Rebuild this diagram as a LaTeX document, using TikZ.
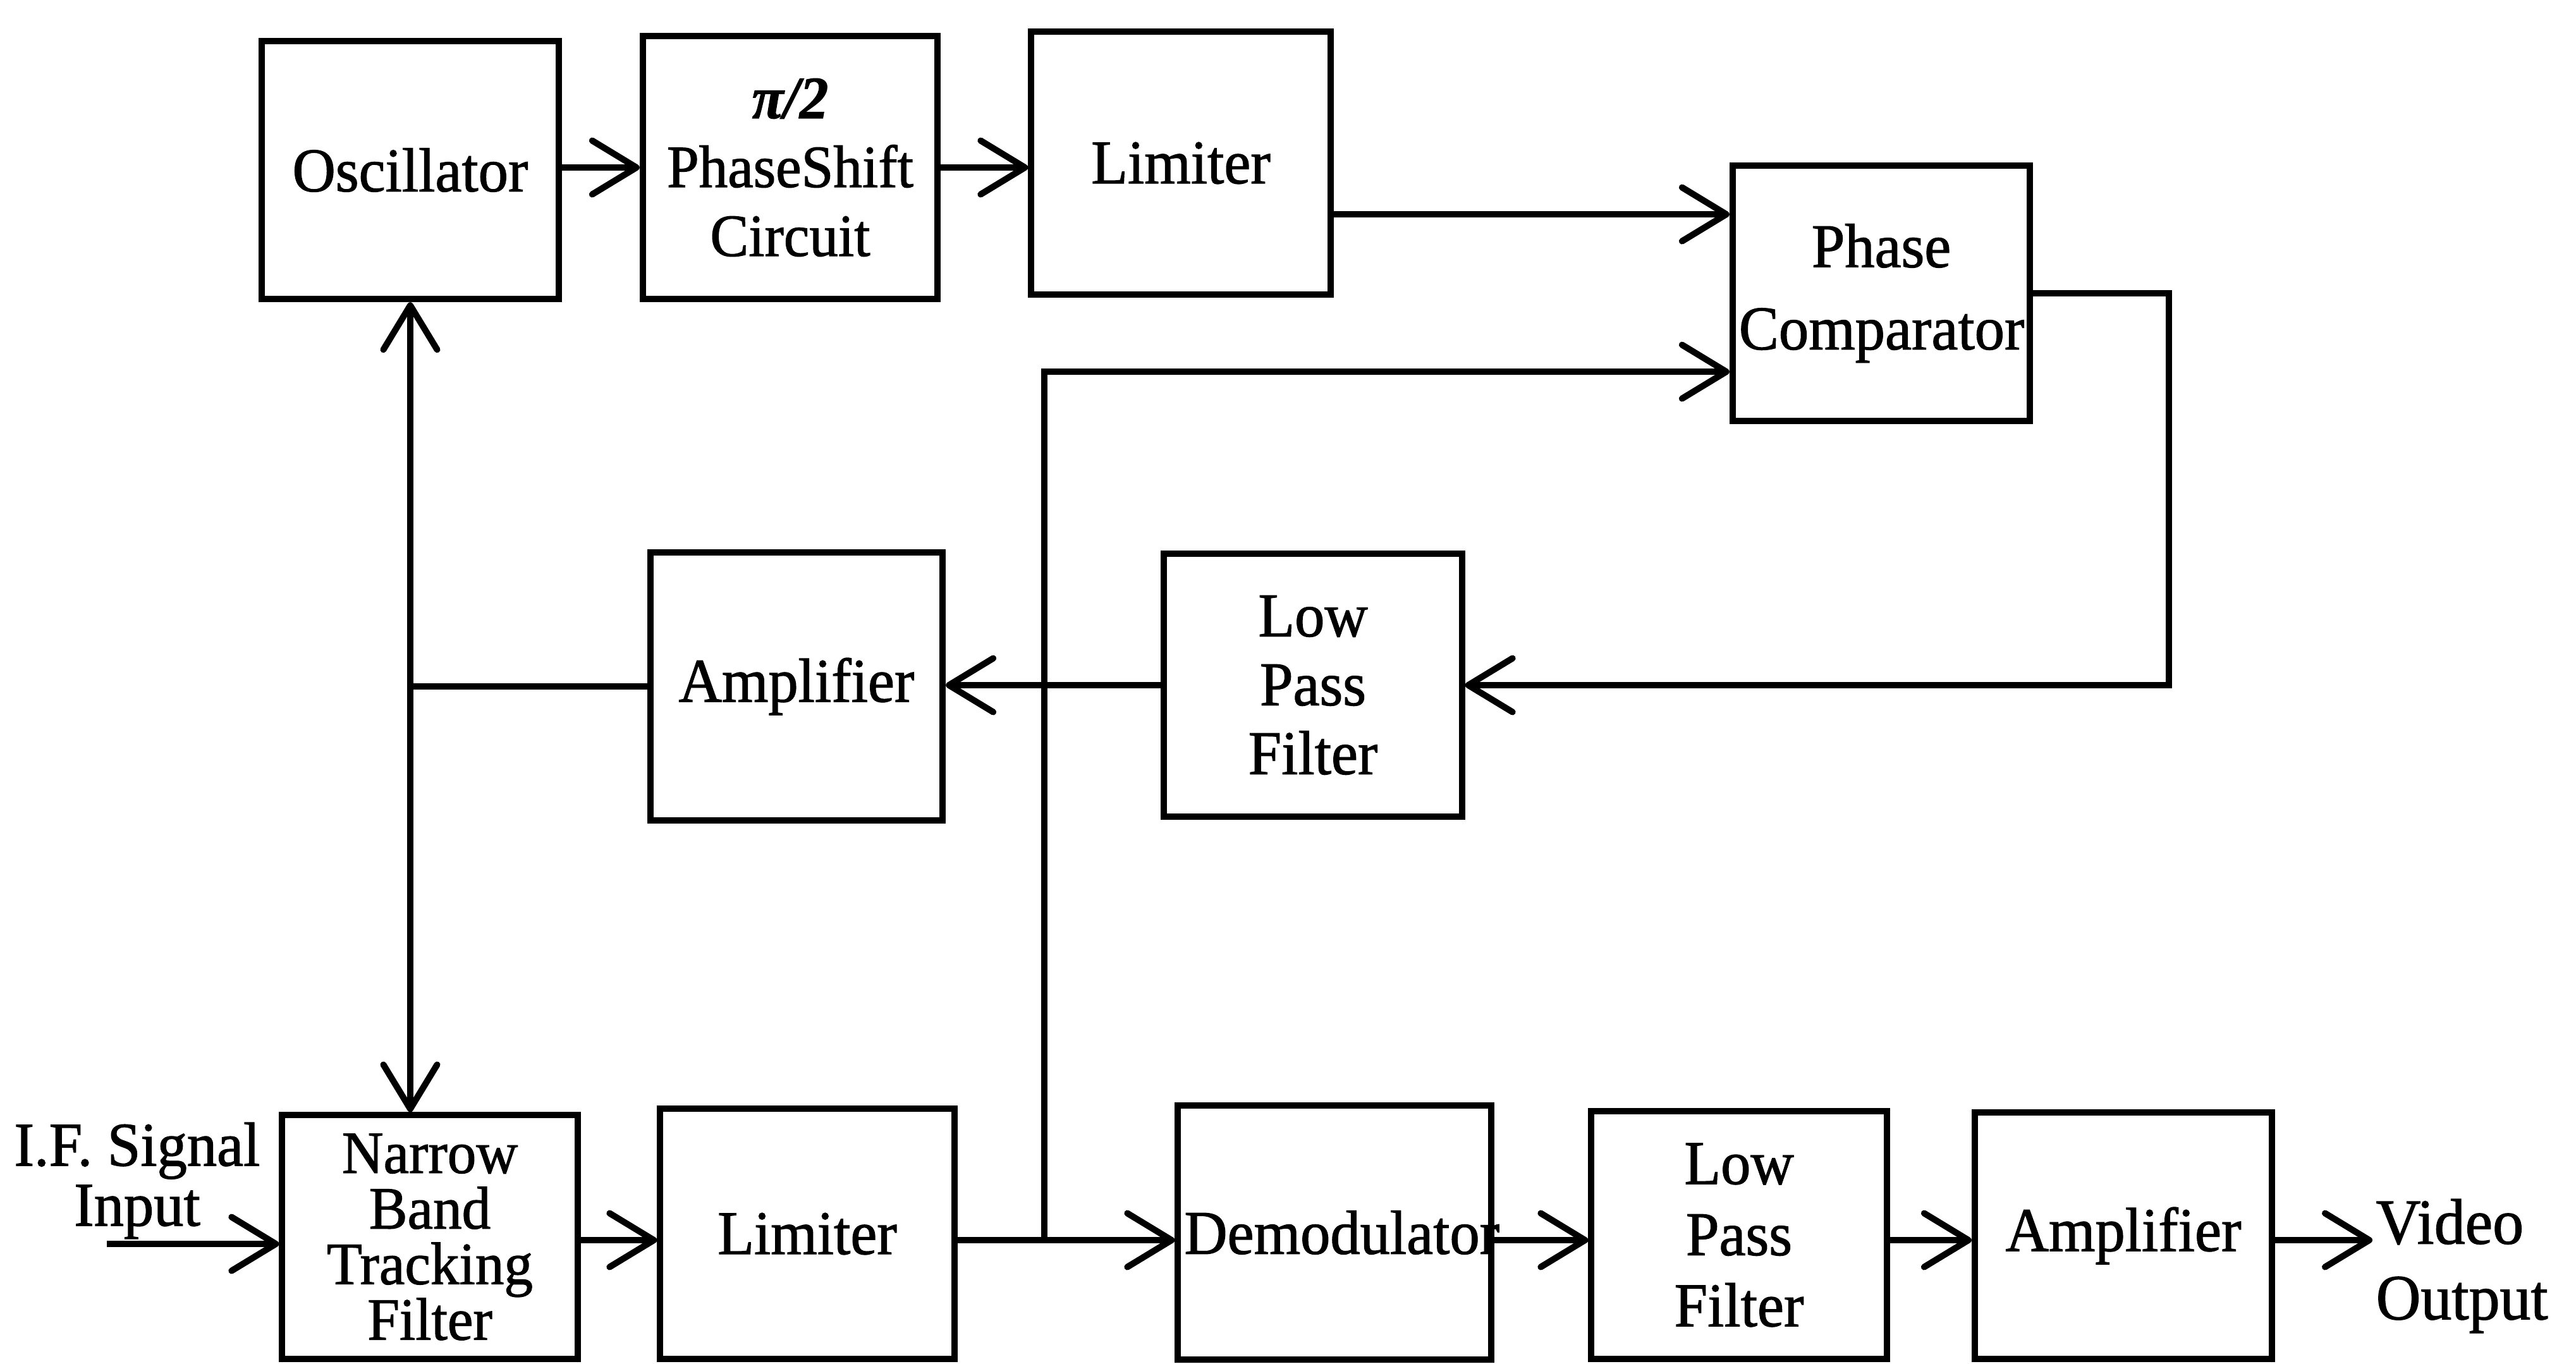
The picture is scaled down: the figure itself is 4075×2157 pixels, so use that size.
\documentclass[tikz,border=0pt]{standalone}
\usepackage{fontspec}
\setmainfont{Liberation Serif}[FakeStretch=0.96,FakeBold=1.2]
\usetikzlibrary{arrows.meta,calc}
\tikzset{
  blk/.style={draw, line width=0.1cm, inner xsep=0.1cm, inner ysep=0pt, align=center,
              font=\fontsize{28}{32}\selectfont},
  lbl/.style={inner sep=0pt, font=\fontsize{28}{32}\selectfont},
  conn/.style={line width=0.1cm},
  arr/.style={conn, -{Straight Barb[length=0.7cm,width=0.85cm,round]}},
}
\begin{document}
\begin{tikzpicture}[x=0.01cm,y=-0.01cm]
\fill[white] (0,0) rectangle (4075,2157);
\useasboundingbox (0,0) rectangle (4075,2157);

% top row
\node[blk, minimum width=4.70cm, minimum height=4.08cm, text width=4.50cm] (osc) at (649,269) {Oscillator};
\node[blk, minimum width=4.66cm, minimum height=4.16cm, text width=4.46cm,
      font=\fontsize{27}{31}\selectfont] (ps) at (1250,265) {{\bfseries\itshape π/2}\\PhaseShift\\Circuit};
\node[blk, minimum width=4.73cm, minimum height=4.16cm, text width=4.53cm] (lim1) at (1868,258) {Limiter};
\node[blk, minimum width=4.70cm, minimum height=4.04cm, text width=4.50cm,
      font=\fontsize{28}{37}\selectfont] (pc) at (2976,464) {Phase\\Comparator};

% middle row
\node[blk, minimum width=4.62cm, minimum height=4.24cm, text width=4.42cm] (amp1) at (1260,1086) {Amplifier};
\node[blk, minimum width=4.71cm, minimum height=4.16cm, text width=4.51cm,
      font=\fontsize{28}{31}\selectfont] (lpf1) at (2077,1084) {Low\\Pass\\Filter};

% bottom row
\node[blk, minimum width=4.67cm, minimum height=3.85cm, text width=4.47cm,
      font=\fontsize{27}{25}\selectfont] (nbtf) at (680,1957) {Narrow\\Band\\Tracking\\Filter};
\node[blk, minimum width=4.65cm, minimum height=3.95cm, text width=4.45cm] (lim2) at (1277,1952) {Limiter};
\node[blk, minimum width=4.95cm, minimum height=4.01cm, text width=4.75cm] (demod) at (2111,1950) {Demodulator};
\node[blk, minimum width=4.67cm, minimum height=3.92cm, text width=4.47cm,
      font=\fontsize{28}{32}\selectfont] (lpf2) at (2751,1954) {Low\\Pass\\Filter};
\node[blk, minimum width=4.70cm, minimum height=3.90cm, text width=4.50cm] (amp2) at (3359,1955) {Amplifier};

% free labels
\node[lbl, align=center, font=\fontsize{28}{27}\selectfont] (ifin) at (217,1868) {I.F. Signal\\Input};
\node[lbl, align=left, anchor=west, font=\fontsize{29}{34}\selectfont] (vidout) at (3758,2003) {Video\\Output};

% helper coordinates
\coordinate (row) at (0,1962);
\coordinate (ifs) at (169,1968);
\coordinate (vout) at (3753,1962);
\coordinate (br) at (1652,1962);
\coordinate (l1o) at ([yshift=-0.81cm]lim1.east);
\coordinate (pcin2) at ([yshift=-1.24cm]pc.west);
\coordinate (j) at (osc.south |- amp1.west);

% top connectors
\draw[arr] (osc.east |- ps.west) -- (ps.west);
\draw[arr] (ps.east) -- (lim1.west |- ps.east);
\draw[arr] (l1o) -- (l1o -| pc.west);
\draw[arr] (br) |- (pcin2);
\draw[arr] (pc.east) -- ++(215,0) |- (lpf1.east);
\draw[arr] (lpf1.west) -- (amp1.east |- lpf1.west);
\draw[conn] (amp1.west) -- (j);
\draw[arr] (j) -- (osc.south);
\draw[arr] (j) -- (j |- nbtf.north);

% bottom connectors
\draw[arr] (ifs) -- (nbtf.west |- ifs);
\draw[arr] (nbtf.east |- row) -- (lim2.west |- row);
\draw[arr] (lim2.east |- row) -- (demod.west |- row);
\draw[arr] (demod.east |- row) -- (lpf2.west |- row);
\draw[arr] (lpf2.east |- row) -- (amp2.west |- row);
\draw[arr] (amp2.east |- row) -- (vout);
\end{tikzpicture}
\end{document}
